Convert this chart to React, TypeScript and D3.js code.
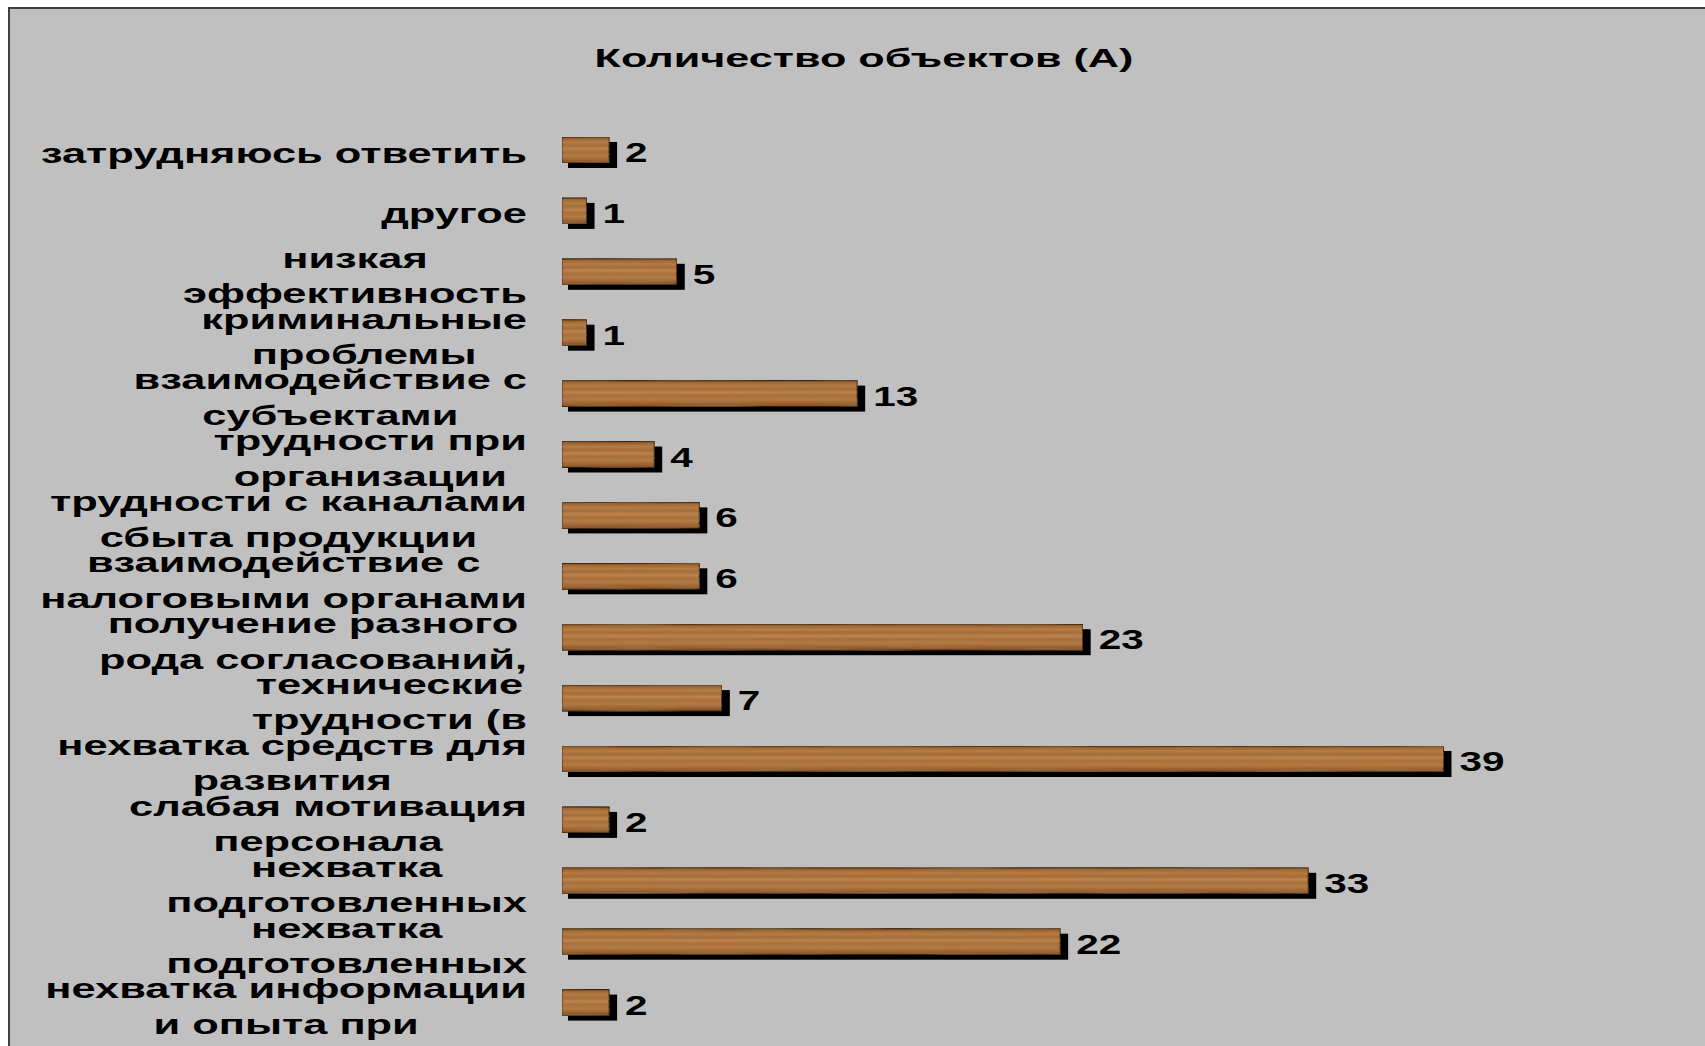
import React, { useEffect, useRef } from "react";
import * as d3 from "d3";

const title = "Количество объектов (А)";

const labelLines: string[][] = [
  ["затрудняюсь ответить"],
  ["другое"],
  ["низкая", "эффективность"],
  ["криминальные", "проблемы"],
  ["взаимодействие с", "субъектами"],
  ["трудности при", "организации"],
  ["трудности с каналами", "сбыта продукции"],
  ["взаимодействие с", "налоговыми органами"],
  ["получение разного", "рода согласований,"],
  ["технические", "трудности (в"],
  ["нехватка средств для", "развития"],
  ["слабая мотивация", "персонала"],
  ["нехватка", "подготовленных"],
  ["нехватка", "подготовленных"],
  ["нехватка информации", "и опыта при"],
];

const values: number[] = [2, 1, 5, 1, 13, 4, 6, 6, 23, 7, 39, 2, 33, 22, 2];

const W = 1705;
const H = 1046;
const FONT = "'Liberation Sans', Arial, sans-serif";

export default function App() {
  const ref = useRef<SVGSVGElement>(null);

  useEffect(() => {
    const svg = d3.select(ref.current);
    svg.selectAll("*").remove();

    const defs = svg.append("defs");
    const grad = defs
      .append("linearGradient")
      .attr("id", "wood")
      .attr("x1", 0)
      .attr("y1", 0)
      .attr("x2", 0)
      .attr("y2", 1);
    const stops: [number, string][] = [
      [0, "#7a4a22"],
      [0.08, "#a0652f"],
      [0.2, "#b97c44"],
      [0.33, "#a56a35"],
      [0.45, "#c08650"],
      [0.58, "#a96d37"],
      [0.72, "#b87b42"],
      [0.86, "#9e6331"],
      [1, "#7e4e25"],
    ];
    stops.forEach(([o, c]) =>
      grad.append("stop").attr("offset", o).attr("stop-color", c)
    );

    const filt = defs
      .append("filter")
      .attr("id", "grain")
      .attr("x", 0)
      .attr("y", 0)
      .attr("width", 1)
      .attr("height", 1);
    filt
      .append("feTurbulence")
      .attr("type", "fractalNoise")
      .attr("baseFrequency", "0.012 0.35")
      .attr("numOctaves", 2)
      .attr("seed", 3)
      .attr("result", "noise");
    filt
      .append("feColorMatrix")
      .attr("in", "noise")
      .attr("type", "matrix")
      .attr(
        "values",
        "0 0 0 0 0.35  0 0 0 0 0.2  0 0 0 0 0.08  0 0 0 0.9 -0.3"
      )
      .attr("result", "tint");
    filt
      .append("feComposite")
      .attr("in", "tint")
      .attr("in2", "SourceGraphic")
      .attr("operator", "in")
      .attr("result", "tintIn");
    const merge = filt.append("feMerge");
    merge.append("feMergeNode").attr("in", "SourceGraphic");
    merge.append("feMergeNode").attr("in", "tintIn");

    // frame
    svg
      .append("rect")
      .attr("x", 9)
      .attr("y", 8)
      .attr("width", W + 20)
      .attr("height", H + 20)
      .attr("fill", "#c0c0c0")
      .attr("stroke", "#404040")
      .attr("stroke-width", 2);

    const x = d3.scaleLinear().domain([0, 39]).range([564, 1443.5]);
    const y = d3
      .scalePoint<number>()
      .domain(d3.range(values.length))
      .range([150, 150 + 14 * 60.9]);
    const barH = 26;
    const x0 = x(0) - 2;

    // title
    const TSX = 1.63;
    svg
      .append("text")
      .attr("transform", `translate(864,67) scale(${TSX},1)`)
      .attr("text-anchor", "middle")
      .attr("font-family", FONT)
      .attr("font-weight", "bold")
      .attr("font-size", 26.5)
      .attr("fill", "#000")
      .text(title);

    const g = svg.append("g");
    const rows = g
      .selectAll("g.row")
      .data(values)
      .join("g")
      .attr("class", "row");

    // shadow
    rows
      .append("rect")
      .attr("x", x0 + 6)
      .attr("y", (_, i) => (y(i) as number) - barH / 2 + 5)
      .attr("width", (d) => x(d) - x0 + 2)
      .attr("height", barH)
      .attr("fill", "#000");

    // front
    rows
      .append("rect")
      .attr("x", x0)
      .attr("y", (_, i) => (y(i) as number) - barH / 2)
      .attr("width", (d) => x(d) - x0)
      .attr("height", barH)
      .attr("fill", "url(#wood)")
      .attr("filter", "url(#grain)")
      .attr("stroke", "#2e1c0c")
      .attr("stroke-width", 1);

    // values
    const VSX = 1.5;
    rows
      .append("text")
      .attr(
        "transform",
        (d, i) => `translate(${x(d) + 16},${(y(i) as number) + 12}) scale(${VSX},1)`
      )
      .attr("font-family", FONT)
      .attr("font-weight", "bold")
      .attr("font-size", 27)
      .attr("fill", "#000")
      .text((d) => String(d));

    // category labels
    const LSX = 1.55;
    const RIGHT = 527;
    const lg = svg.append("g");
    labelLines.forEach((lines, i) => {
      const cy = y(i) as number;
      const texts = lines.map((ln) =>
        lg
          .append("text")
          .attr("font-family", FONT)
          .attr("font-weight", "bold")
          .attr("font-size", 28)
          .attr("text-anchor", "middle")
          .attr("fill", "#000")
          .text(ln)
      );
      const maxW = d3.max(texts, (t) =>
        (t.node() as SVGTextElement).getComputedTextLength()
      ) as number;
      const cx = RIGHT - (maxW * LSX) / 2;
      const baselines = lines.length === 1 ? [cy + 12.5] : [cy - 4.2, cy + 31.3];
      texts.forEach((t, k) =>
        t.attr("transform", `translate(${cx},${baselines[k]}) scale(${LSX},1)`)
      );
    });
  }, []);

  return (
    <svg
      ref={ref}
      width={W}
      height={H}
      style={{ position: "absolute", left: 0, top: 0, background: "#fff" }}
    />
  );
}
